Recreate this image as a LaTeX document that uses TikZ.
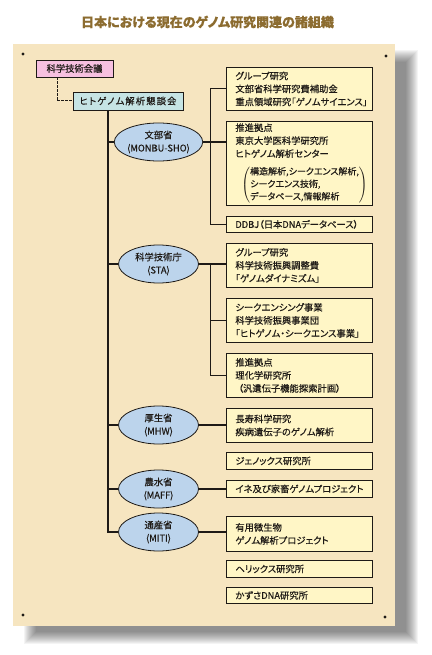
\documentclass[tikz,border=0pt]{standalone}
\usepackage{fontspec}
\setmainfont{Noto Sans CJK JP}[FakeBold=0.4, RawFeature=+palt]
\usetikzlibrary{shapes.geometric}
\definecolor{panel}{RGB}{246,229,192}
\definecolor{boxfill}{RGB}{255,246,198}
\definecolor{ellfill}{RGB}{188,212,236}
\definecolor{pinkfill}{RGB}{246,192,224}
\definecolor{tealfill}{RGB}{198,228,228}
\definecolor{titlecol}{RGB}{140,108,48}
\definecolor{ink}{RGB}{30,26,22}
\begin{document}
\begin{tikzpicture}[x=1pt,y=-1pt,
  txt/.style={font=\fontsize{9.3}{13}\selectfont, text=ink},
  rbox/.style={txt, draw=ink, line width=0.8pt, fill=boxfill, minimum width=146pt,
    text width=128pt, inner xsep=9pt, inner ysep=0pt, align=left, anchor=north west},
  lbox/.style={txt, draw=ink, line width=0.8pt, inner sep=0pt},
  ell/.style={txt, ellipse, draw=ink, line width=0.8pt, fill=ellfill, minimum width=80pt,
    minimum height=38pt, inner sep=0pt, align=center},
  conn/.style={draw=ink, line width=1.1pt}]
\useasboundingbox (0,0) rectangle (431,655);
% shadow
\foreach \i in {0,...,12}{
  \fill[black, opacity=0.045] (23.7+\i,50+\i) rectangle (418-\i,644-\i);
}
% panel
\fill[panel] (12.7,44) rectangle (395,626);
% corner dots
\fill[ink] (23,54) circle (1.6);
\fill[ink] (386,56) circle (1.6);
\fill[ink] (23,615) circle (1.6);
\fill[ink] (385,617) circle (1.6);
% title
\node[font=\bfseries\fontsize{13}{15}\selectfont, text=titlecol] (title) at (207.5,22)
  {日本における現在のゲノム研究関連の諸組織};
% left boxes
\node[lbox, fill=pinkfill, minimum width=77pt, minimum height=17pt] (kagi) at (74.5,68.5) {科学技術会議};
\node[lbox, fill=tealfill, minimum width=110pt, minimum height=18pt] (hito) at (128,101)
  {\addfontfeature{LetterSpace=12}ヒトゲノム解析懇談会};
% ministries
\node[ell] (monbu) at (158.5,142) {文部省\\(MONBU-SHO)};
\node[ell] (sta) at (158.5,264) {科学技術庁\\(STA)};
\node[ell] (mhw) at (158.5,425) {厚生省\\(MHW)};
\node[ell] (maff) at (158.5,489) {農水省\\(MAFF)};
\node[ell] (miti) at (158.5,532) {通産省\\(MITI)};
% right boxes
\node[rbox, minimum height=43pt] (b1) at (226,67) {グループ研究\\文部省科学研究費補助金\\重点領域研究「ゲノムサイエンス」};
\node[rbox, minimum height=84pt] (b2) at (226,121) {推進拠点\\東京大学医科学研究所\\ヒトゲノム解析センター\\[7pt]
  \hspace*{6pt}$\left(\vcenter{\hbox{\fontsize{9}{12.5}\selectfont\begin{tabular}{@{}l@{}}構造解析,シークエンス解析,\\シークエンス技術,\\データベース,情報解析\end{tabular}}}\right)$};
\node[rbox, minimum height=16pt] (b3) at (226,216) {DDBJ（日本DNAデータベース）};
\node[rbox, minimum height=44pt] (b4) at (226,243) {グループ研究\\科学技術振興調整費\\「ゲノムダイナミズム」};
\node[rbox, minimum height=44pt] (b5) at (226,298) {シークエンシング事業\\科学技術振興事業団\\「ヒトゲノム・シークエンス事業」};
\node[rbox, minimum height=44pt] (b6) at (226,353) {推進拠点\\理化学研究所\\\hspace*{3pt}（汎遺伝子機能探索計画）};
\node[rbox, minimum height=34pt] (b7) at (226,408) {長寿科学研究\\疾病遺伝子のゲノム解析};
\node[rbox, minimum height=17pt] (b8) at (226,452) {ジェノックス研究所};
\node[rbox, minimum height=17pt] (b9) at (226,480) {イネ及び家畜ゲノムプロジェクト};
\node[rbox, minimum height=35pt] (b10) at (226,516) {有用微生物\\ゲノム解析プロジェクト};
\node[rbox, minimum height=17pt] (b11) at (226,560) {ヘリックス研究所};
\node[rbox, minimum height=16pt] (b12) at (226,587) {かずさDNA研究所};
% connectors
\coordinate (D) at (57,0);
\coordinate (T) at (108,0);
\coordinate (M) at (210.5,0);
\draw[draw=ink, line width=1pt, dashed, dash pattern=on 2.5pt off 1.5pt] (D |- kagi.south) |- (hito.west);
\draw[conn] (T |- hito.south) |- (miti.west);
\draw[conn] (T |- monbu.west) -- (monbu.west);
\draw[conn] (T |- sta.west) -- (sta.west);
\draw[conn] (T |- mhw.west) -- (mhw.west);
\draw[conn] (T |- maff.west) -- (maff.west);
\draw[conn] (monbu.east) -- (monbu.east -| b2.west);
\draw[conn] (b1.west) -- (M |- b1.west) -- (M |- b3.west) -- (b3.west);
\draw[conn] (sta.east) -- (sta.east -| b4.west);
\draw[conn] (M |- sta.east) -- (M |- b6.west) -- (b6.west);
\draw[conn] (M |- b5.west) -- (b5.west);
\draw[conn] (mhw.east) -- (mhw.east -| b7.west);
\draw[conn] (maff.east) -- (maff.east -| b9.west);
\draw[conn] (miti.east) -- (miti.east -| b10.west);
\end{tikzpicture}
\end{document}
